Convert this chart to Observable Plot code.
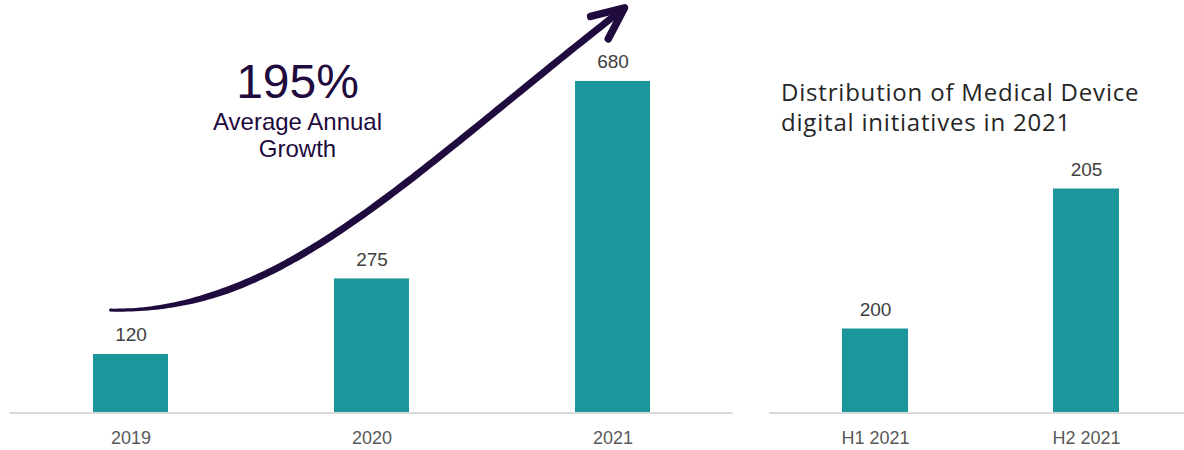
<!DOCTYPE html>
<html><head><meta charset="utf-8">
<script src="https://cdn.jsdelivr.net/npm/d3@7"></script>
<script src="https://cdn.jsdelivr.net/npm/@observablehq/plot@0.6"></script>
<style>
body{margin:0;background:#fff;}
#wrap{position:relative;width:1184px;height:450px;overflow:hidden;display:flex;}
#wrap svg{flex:none;display:block;}
#title{position:absolute;left:781px;top:77px;font-family:"Open Sans",sans-serif;font-size:24px;letter-spacing:0.8px;line-height:30px;color:#262626;white-space:nowrap;}
</style></head><body>
<div id="wrap"></div>
<script>
// ---- data ----
const years = ["2019", "2020", "2021"];
const yearValues = [120, 275, 680];
const halves = ["H1 2021", "H2 2021"];
const halfValues = [200, 205];
const halfBaseline = 197;
const growthLabel = "195%";
const growthSub = ["Average Annual", "Growth"];
const titleLines = ["Distribution of Medical Device", "digital initiatives in 2021"];
// annotation arrow, cubic Bézier control points: [band position (0 = first category centre), value]
const arrowCtrl = [[-0.083, 210], [0.622, 204], [1.12, 471], [2.05, 830]];
const growthAnchor = [0.693, 646];

const teal = "#1b979b";
const ink = "#1f0b3d";
const font = "'Liberation Sans', Arial, sans-serif";

const yearData = years.map((y, i) => ({cat: y, value: yearValues[i]}));
const halfData = halves.map((h, i) => ({cat: h, value: halfValues[i]}));

function bezier(c, n) {
  const out = [];
  for (let k = 0; k <= n; k++) {
    const t = k / n, u = 1 - t;
    const a = u * u * u, b = 3 * u * u * t, cc = 3 * u * t * t, d = t * t * t;
    out.push([a * c[0][0] + b * c[1][0] + cc * c[2][0] + d * c[3][0], a * c[0][1] + b * c[1][1] + cc * c[2][1] + d * c[3][1]]);
  }
  return out;
}

function arrowMark(index, scales) {
  const xs = scales.x, ys = scales.y;
  const bw = typeof xs.bandwidth === "function" ? xs.bandwidth() : (xs.bandwidth || 0);
  const x0 = xs(years[0]) + bw / 2, step = xs(years[1]) - xs(years[0]);
  const px = d => [x0 + d[0] * step, ys(d[1])];
  const pts = bezier(arrowCtrl.map(px), 120);
  const L = [0];
  for (let i = 1; i < pts.length; i++) L.push(L[i - 1] + Math.hypot(pts[i][0] - pts[i - 1][0], pts[i][1] - pts[i - 1][1]));
  const total = L[L.length - 1];
  const left = [], right = [];
  for (let i = 0; i < pts.length; i++) {
    const a = pts[Math.max(i - 1, 0)], b = pts[Math.min(i + 1, pts.length - 1)];
    const dx = b[0] - a[0], dy = b[1] - a[1], len = Math.hypot(dx, dy) || 1;
    const nx = -dy / len, ny = dx / len;
    const s = Math.min(1, L[i] / (0.22 * total));
    const w = (3 + 4 * (s * s * (3 - 2 * s))) / 2;
    left.push([pts[i][0] + nx * w, pts[i][1] + ny * w]);
    right.push([pts[i][0] - nx * w, pts[i][1] - ny * w]);
  }
  const poly = left.concat(right.reverse());
  const g = d3.create("svg:g");
  g.append("path").attr("d", "M" + poly.map(p => p[0].toFixed(2) + "," + p[1].toFixed(2)).join("L") + "Z").attr("fill", ink);
  g.append("circle").attr("cx", pts[0][0]).attr("cy", pts[0][1]).attr("r", 1.5).attr("fill", ink);
  // arrowhead
  const tip = pts[pts.length - 1], back = pts[pts.length - 10];
  const ang = Math.atan2(back[1] - tip[1], back[0] - tip[0]);
  const arm = 35, spread = 24 * Math.PI / 180;
  const a1 = [tip[0] + arm * Math.cos(ang + spread), tip[1] + arm * Math.sin(ang + spread)];
  const a2 = [tip[0] + arm * Math.cos(ang - spread), tip[1] + arm * Math.sin(ang - spread)];
  g.append("path").attr("d", `M${a1}L${tip}L${a2}`).attr("fill", "none").attr("stroke", ink)
    .attr("stroke-width", 7.5).attr("stroke-linecap", "round").attr("stroke-linejoin", "round");
  // growth annotation
  const [gx, gy] = px(growthAnchor);
  const t = g.append("g").attr("fill", ink).attr("text-anchor", "middle").attr("font-family", font);
  t.append("text").attr("x", gx).attr("y", gy).attr("font-size", 48).text(growthLabel);
  t.append("text").attr("x", gx).attr("y", gy + 32.5).attr("font-size", 24).text(growthSub[0]);
  t.append("text").attr("x", gx).attr("y", gy + 59.5).attr("font-size", 24).text(growthSub[1]);
  return g.node();
}

const leftPlot = Plot.plot({
  width: 750, height: 450,
  marginLeft: 9.5, marginRight: 17.5, marginTop: 0, marginBottom: 37.5,
  style: {fontFamily: font, fontSize: "18px", background: "transparent", overflow: "visible"},
  x: {domain: years, paddingInner: 0.69, paddingOuter: 0.345, label: null},
  y: {domain: [0, 846], axis: null},
  marks: [
    Plot.barY(yearData, {x: "cat", y: "value", fill: teal}),
    Plot.ruleY([0], {stroke: "#d9d9d9", strokeWidth: 2}),
    Plot.text(yearData, {x: "cat", y: "value", text: d => String(d.value), dy: -13, lineAnchor: "bottom", fontSize: 19, fill: "#404040"}),
    Plot.axisX({tickSize: 0, tickPadding: 18.5, fill: "#595959", label: null}),
    arrowMark
  ]
});

const rightPlot = Plot.plot({
  width: 442, height: 450,
  marginLeft: 19, marginRight: 0, marginTop: 0, marginBottom: 37.5,
  style: {fontFamily: font, fontSize: "18px", background: "transparent", overflow: "visible"},
  x: {domain: halves, paddingInner: 0.688, paddingOuter: 0.344, label: null},
  y: {domain: [halfBaseline, halfBaseline + 412.5 / 28], axis: null},
  marks: [
    Plot.barY(halfData, {x: "cat", y1: halfBaseline, y2: "value", fill: teal}),
    Plot.ruleY([halfBaseline], {stroke: "#d9d9d9", strokeWidth: 2}),
    Plot.text(halfData, {x: "cat", y: "value", text: d => String(d.value), dy: -13, lineAnchor: "bottom", fontSize: 19, fill: "#404040"}),
    Plot.axisX({tickSize: 0, tickPadding: 18.5, fill: "#595959", label: null})
  ]
});

const wrap = document.getElementById("wrap");
wrap.appendChild(leftPlot);
wrap.appendChild(rightPlot);
const title = document.createElement("div");
title.id = "title";
title.innerHTML = titleLines.join("<br>");
wrap.appendChild(title);
</script>
</body></html>
